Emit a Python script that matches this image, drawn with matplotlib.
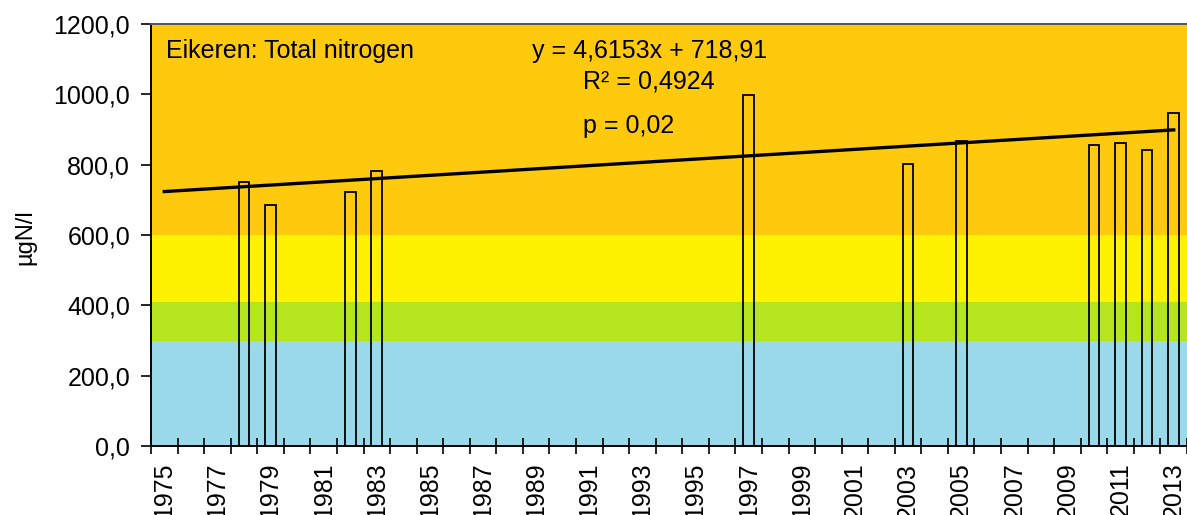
import matplotlib
matplotlib.use("Agg")
import matplotlib.pyplot as plt
import numpy as np

# data
years = list(range(1975, 2014))
sample_years = [1978, 1979, 1982, 1983, 1997, 2003, 2005, 2010, 2011, 2012, 2013]
nitrogen = [750, 685, 722, 782, 998, 802, 868, 856, 861, 842, 947]

# class limits (background bands), µgN/l
band_limits = [0, 300, 410, 600, 1200]
band_colors = ["#99d9ea", "#b5e61d", "#fff200", "#ffc90e"]

# linear trend as written in the chart (x = 1 for 1975)
slope = 4.6153
intercept = 718.91

plt.rcParams["font.family"] = ["Liberation Sans", "DejaVu Sans"]

fig = plt.figure(figsize=(11.87, 5.15), dpi=100)
ax = fig.add_axes([151 / 1187, 69 / 515, 1036 / 1187, 422 / 515])

# background bands
for i in range(len(band_colors)):
    ax.axhspan(band_limits[i], band_limits[i + 1], color=band_colors[i], zorder=0, lw=0)

x_pos = np.arange(len(years))
bar_x = [years.index(y) for y in sample_years]
ax.bar(bar_x, nitrogen, width=0.4, facecolor="none", edgecolor="black", linewidth=1.3, zorder=2)

# trend line
trend_y = [slope * (i + 1) + intercept for i in x_pos]
ax.plot(x_pos, trend_y, color="black", linewidth=2.4, zorder=3)

ax.set_xlim(-0.5, 38.02)
ax.set_ylim(0, 1200)

# y axis
ax.set_yticks(np.arange(0, 1201, 200))
ax.set_yticklabels([("%.1f" % v).replace(".", ",") for v in np.arange(0, 1201, 200)], fontsize=18)
ax.tick_params(axis="y", direction="out", length=7, width=1.2, pad=8)

# x axis: ticks between categories, labels every second year
ax.set_xticks(np.arange(-0.5, len(years), 1))
ax.set_xticklabels([])
ax.set_xticks(x_pos[::2], minor=True)
ax.set_xticklabels([str(y) for y in years[::2]], minor=True, rotation=90, fontsize=18)
ax.tick_params(axis="x", which="major", direction="inout", length=11, width=1.2)
ax.tick_params(axis="x", which="minor", length=0, pad=12)

ax.spines["right"].set_visible(False)
ax.spines["top"].set_color("#555555")
for s in ["left", "bottom"]:
    ax.spines[s].set_linewidth(1.4)
ax.spines["top"].set_linewidth(1.4)

# texts
ax.text(0.014, 0.965, "Eikeren: Total nitrogen", transform=ax.transAxes, fontsize=18, va="top", ha="left")
fig.text(650 / 1187, 1 - 51 / 515, "y = 4,6153x + 718,91", fontsize=18, ha="center", va="center")
fig.text(583 / 1187, 1 - 81 / 515, "R² = 0,4924", fontsize=18, ha="left", va="center")
fig.text(583 / 1187, 1 - 126 / 515, "p = 0,02", fontsize=18, ha="left", va="center")

fig.text(25 / 1187, 1 - 237 / 515, "µgN/l", fontsize=17, rotation=90, ha="center", va="center")

fig.savefig("out.png", dpi=100)
